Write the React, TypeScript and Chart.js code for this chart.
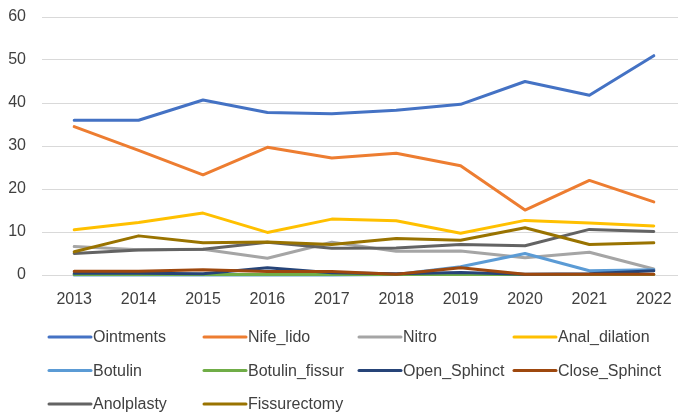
import React, { useEffect, useRef } from "react";
import { Chart, registerables } from "chart.js";

Chart.register(...registerables);

const years = ["2013", "2014", "2015", "2016", "2017", "2018", "2019", "2020", "2021", "2022"];

const ointments = [36, 36, 40.7, 37.8, 37.5, 38.3, 39.7, 45, 41.8, 51];
const nifeLido = [34.5, 29, 23.3, 29.7, 27.2, 28.3, 25.4, 15.1, 22, 17];
const nitro = [6.6, 5.9, 6, 3.9, 7.6, 5.5, 5.6, 4.0, 5.3, 1.4];
const analDilation = [10.5, 12.2, 14.4, 9.9, 13, 12.6, 9.7, 12.7, 12.1, 11.4];
const botulin = [0, 0, 0, 0, 0, 0.1, 1.9, 5.0, 1.0, 1.2];
const botulinFissur = [0.1, 0.1, 0.1, 0.1, 0.1, 0.1, 0.1, 0.1, 0.1, 0.1];
const openSphinct = [0.4, 0.4, 0.3, 1.7, 0.5, 0.3, 0.6, 0.2, 0.3, 1.0];
const closeSphinct = [0.9, 0.9, 1.2, 0.8, 0.8, 0.2, 1.7, 0.2, 0.2, 0.2];
const anolplasty = [5.0, 5.8, 6.0, 7.6, 6.2, 6.3, 7.1, 6.8, 10.6, 10.1];
const fissurectomy = [5.4, 9.1, 7.5, 7.7, 7.1, 8.5, 8.1, 11, 7.1, 7.5];

const seriesNames = [
  "Ointments", "Nife_lido", "Nitro", "Anal_dilation", "Botulin",
  "Botulin_fissur", "Open_Sphinct", "Close_Sphinct", "Anolplasty", "Fissurectomy",
];
const seriesValues = [
  ointments, nifeLido, nitro, analDilation, botulin,
  botulinFissur, openSphinct, closeSphinct, anolplasty, fissurectomy,
];
const seriesColors = [
  "#4472C4", "#ED7D31", "#A5A5A5", "#FFC000", "#5B9BD5",
  "#70AD47", "#264478", "#9E480E", "#636363", "#997300",
];

const FONT = "'Liberation Sans', Arial, sans-serif";
const TEXT = "#404040";

const gridLegend = {
  id: "gridLegend",
  afterDraw(chart: any) {
    const ctx = chart.ctx;
    ctx.save();
    ctx.font = `16px ${FONT}`;
    ctx.textBaseline = "middle";
    ctx.textAlign = "left";
    chart.data.datasets.forEach((ds: any, i: number) => {
      const col = i % 4;
      const row = Math.floor(i / 4);
      const x = 48 + col * 155;
      const y = 337 + row * 33.5;
      ctx.strokeStyle = ds.borderColor;
      ctx.lineWidth = 3;
      ctx.lineCap = "round";
      ctx.beginPath();
      ctx.moveTo(x + 1, y);
      ctx.lineTo(x + 43, y);
      ctx.stroke();
      ctx.fillStyle = TEXT;
      ctx.fillText(ds.label, x + 45, y + 1);
    });
    ctx.restore();
  },
};

export default function App() {
  const ref = useRef<HTMLCanvasElement | null>(null);
  useEffect(() => {
    if (!ref.current) return;
    const chart = new Chart(ref.current, {
      type: "line",
      data: {
        labels: years,
        datasets: seriesNames.map((name, i) => ({
          label: name,
          data: seriesValues[i],
          borderColor: seriesColors[i],
          backgroundColor: seriesColors[i],
          borderWidth: 3,
          pointRadius: 0,
          tension: 0,
          clip: false as any,
          order: seriesNames.length - i,
          borderCapStyle: "round" as any,
          borderJoinStyle: "round" as any,
        })),
      },
      options: {
        responsive: false,
        animation: false,
        layout: { padding: { top: 17, bottom: 100, left: 0, right: 0 } },
        plugins: {
          legend: { display: false },
          tooltip: { enabled: false },
        },
        scales: {
          x: {
            offset: true,
            grid: { display: false, drawTicks: false },
            border: { display: false },
            ticks: {
              color: TEXT,
              font: { family: FONT, size: 16 },
              padding: 15,
              maxRotation: 0,
              autoSkip: false,
            },
            afterFit(scale: any) {
              scale.height = 40;
              scale.paddingLeft = 0;
              scale.paddingRight = 0;
            },
          },
          y: {
            min: 0,
            max: 60,
            ticks: {
              stepSize: 10,
              color: TEXT,
              font: { family: FONT, size: 16 },
              padding: 16,
            },
            grid: { color: "#D9D9D9", lineWidth: 1, drawTicks: false },
            border: { display: false },
            afterFit(scale: any) {
              scale.width = 42;
              scale.paddingTop = 0;
              scale.paddingBottom = 0;
            },
          },
        },
      },
      plugins: [gridLegend],
    });
    return () => chart.destroy();
  }, []);
  return (
    <div style={{ position: "absolute", left: 0, top: 0, width: 678, height: 415, overflow: "hidden", background: "#fff" }}>
      <canvas ref={ref} width={686} height={415} style={{ display: "block" }} />
    </div>
  );
}
